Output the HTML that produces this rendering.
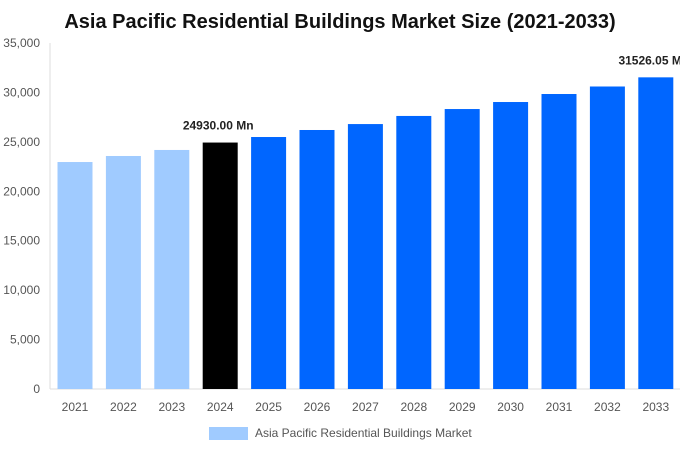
<!DOCTYPE html>
<html><head><meta charset="utf-8"><style>
body{margin:0;background:#fff;}
svg{display:block;font-family:"Liberation Sans",Arial,sans-serif;}
</style></head><body>
<svg id="chart" width="680" height="450">
<text x="340" y="28" text-anchor="middle" font-size="20" font-weight="bold" fill="#111">Asia Pacific Residential Buildings Market Size (2021-2033)</text>
<g id="axes"></g>
<g id="bars"></g>
<g>
<rect x="209" y="427" width="39" height="13" fill="#a0cbff"></rect>
<text x="255" y="437" font-size="12" fill="#555">Asia Pacific Residential Buildings Market</text>
</g>
</svg>
<script>
const categories=["2021","2022","2023","2024","2025","2026","2027","2028","2029","2030","2031","2032","2033"];
const values=[22960,23570,24180,24930,25490,26200,26800,27620,28320,29030,29840,30600,31526.05];
const yTicks=[0,5000,10000,15000,20000,25000,30000,35000];
const yTickLabels=["0","5,000","10,000","15,000","20,000","25,000","30,000","35,000"];
const labels={3:"24930.00 Mn",12:"31526.05 Mn"};
const ns="http://www.w3.org/2000/svg";
const x0=50,x1=680,yBase=389,yTop=43,yMax=35000;
const y=v=>yBase-(v/yMax)*(yBase-yTop);
const step=48.4,firstC=75,bw=35;
const xc=i=>firstC+i*step;
function mk(t,a,p){const e=document.createElementNS(ns,t);for(const k in a)e.setAttribute(k,a[k]);p.appendChild(e);return e;}
const ax=document.getElementById('axes'),bars=document.getElementById('bars');
const yl=mk('line',{x1:x0,y1:yTop,x2:x0,y2:yBase,stroke:'#ddd'},ax);


const xl=mk('line',{x1:x0,y1:yBase,x2:x1,y2:yBase,stroke:'#ddd'},ax);


yTicks.forEach((v,i)=>{const t=mk('text',{x:40,y:y(v)+4,'text-anchor':'end','font-size':12,fill:'#555'},ax);t.textContent=yTickLabels[i];

});
categories.forEach((c,i)=>{
const fill=i<3?'#a0cbff':(i===3?'#000':'#0066ff');
const r=mk('rect',{x:xc(i)-bw/2,y:y(values[i]),width:bw,height:yBase-y(values[i]),fill:fill},bars);


const t=mk('text',{x:xc(i),y:411,'text-anchor':'middle','font-size':12,fill:'#555'},ax);t.textContent=c;


if(labels[i]){const l=mk('text',{x:xc(i)-2,y:y(values[i])-13,'text-anchor':'middle','font-size':12,'font-weight':'bold',fill:'#222'},bars);l.textContent=labels[i];

}
});
</script>
</body></html>
